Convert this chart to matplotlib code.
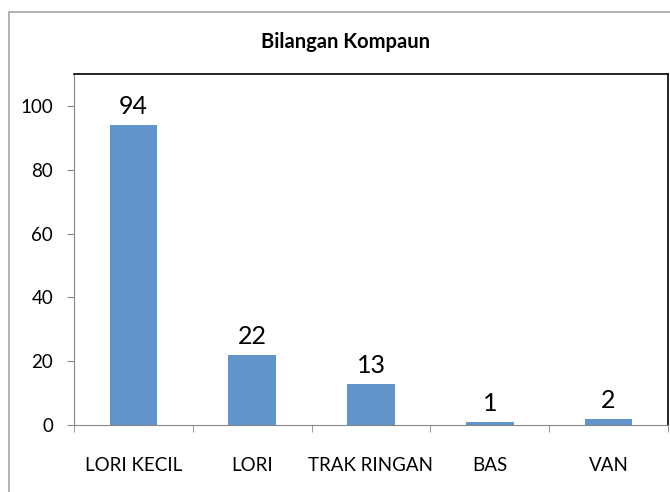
import matplotlib.pyplot as plt
from matplotlib.patches import Rectangle
import numpy as np

plt.rcParams['font.family'] = ['Lato', 'DejaVu Sans']

kategori = ['LORI KECIL', 'LORI', 'TRAK RINGAN', 'BAS', 'VAN']
bilangan = [94, 22, 13, 1, 2]

fig = plt.figure(figsize=(6.7, 4.92), dpi=100)
ax = fig.add_axes([74/670, 1-425/492, 594/670, 351/492])

x = np.arange(len(kategori))
bars = ax.bar(x, bilangan, width=0.4, color='#6094CB', zorder=2)
for b, v in zip(bars, bilangan):
    ax.annotate(str(v), (b.get_x() + b.get_width()/2, v), xytext=(0, 5),
                textcoords='offset points', ha='center', va='bottom', fontsize=18)

ax.set_xlim(-0.5, len(kategori) - 0.5)
ax.set_ylim(0, 110)
ax.set_yticks([0, 20, 40, 60, 80, 100])
ax.set_xticks(x)
ax.set_xticklabels(kategori, fontsize=13.5)
ax.set_xticks(np.arange(-0.5, len(kategori)), minor=True)
ax.tick_params(axis='x', which='major', length=0, pad=23)
ax.tick_params(axis='x', which='minor', length=5, color='#868686')
ax.tick_params(axis='y', length=5, color='#868686', labelsize=13.5, pad=10)

ax.spines['left'].set_color('#868686')
ax.spines['bottom'].set_color('#868686')
ax.spines['top'].set_color('black')
ax.spines['right'].set_color('black')
ax.spines['top'].set_linewidth(1.2)
ax.spines['right'].set_linewidth(1.2)

fig.text(345/670, 1-42/492, 'Bilangan Kompaun', ha='center', va='center',
         fontsize=14.5, fontweight='bold')

# bingkai carta
fig.patches.append(Rectangle((9/670, -0.05), 1.1, 1-12/492+0.05,
                             transform=fig.transFigure, fill=False,
                             edgecolor='#A6A6A6', linewidth=1.2))

fig.savefig('out.png', dpi=100)
